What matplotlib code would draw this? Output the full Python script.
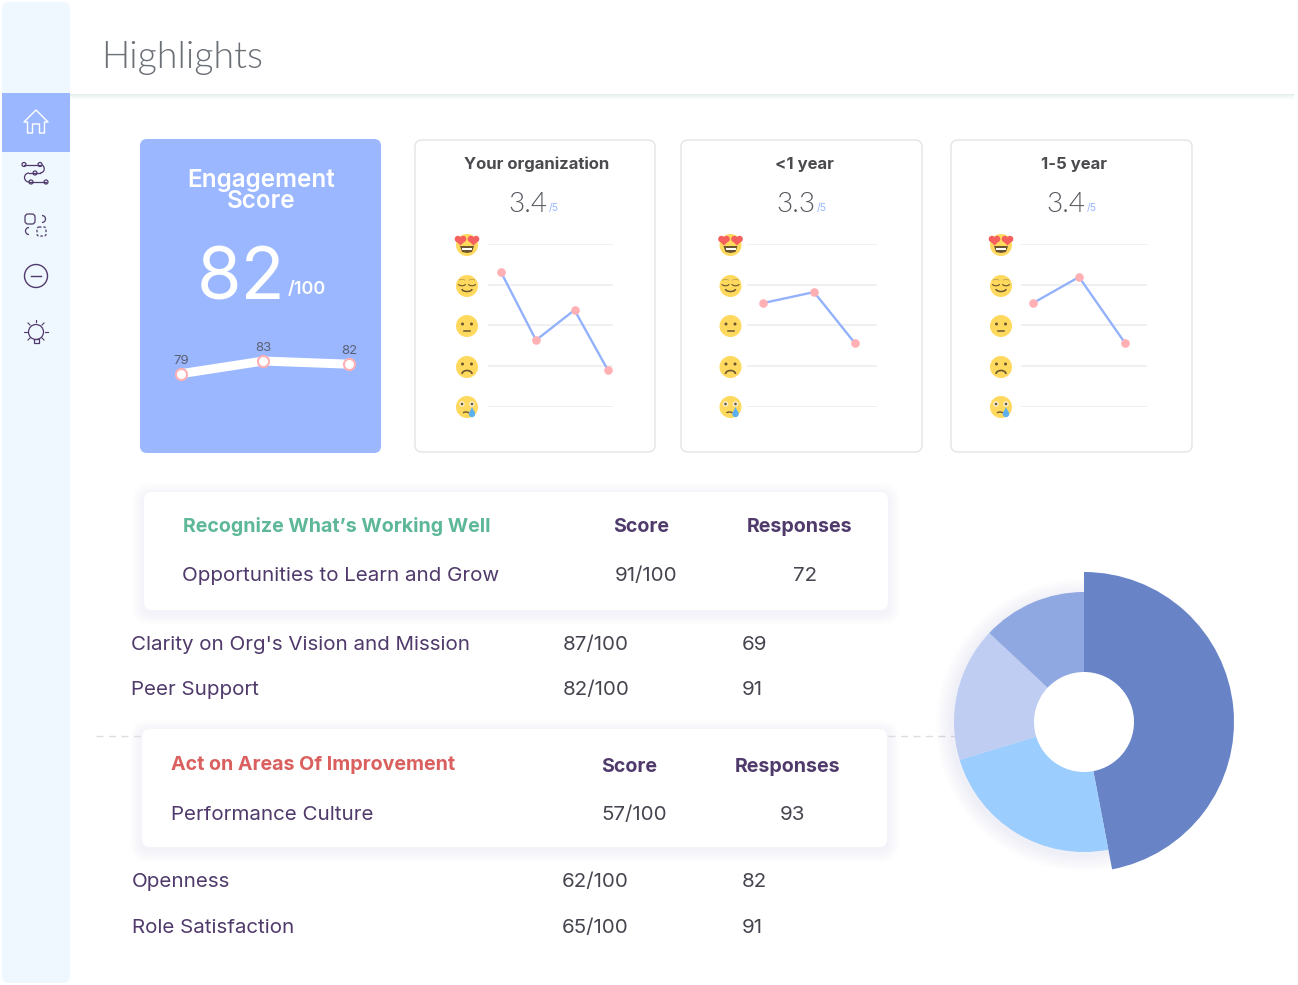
import matplotlib
matplotlib.use("Agg")
import matplotlib.pyplot as plt
from matplotlib.patches import Circle, FancyBboxPatch, Rectangle, Polygon, Arc

W, H = 1298, 985

# Data
engagement_labels = ["79", "83", "82"]
engagement_pos = [0, 1, 2.04]
engagement_scores = [79, 83, 82]

org_pos = [0, 1, 2.1, 3.05]
org_values = [4.31, 2.64, 3.38, 1.91]
lt1_pos = [0, 1, 1.8]
lt1_values = [3.55, 3.82, 2.57]
y15_pos = [0, 1, 2]
y15_values = [3.55, 4.19, 2.57]

pie_values = [47, 23.3, 16.7, 13]
pie_colors = ["#6884C7", "#9CCDFF", "#BFCDF2", "#90A8E2"]

good_rows = [("Clarity on Org's Vision and Mission", "87/100", "69"),
             ("Peer Support", "82/100", "91")]
bad_rows = [("Openness", "62/100", "82"),
            ("Role Satisfaction", "65/100", "91")]

FONT = "Inter"
LIGHT = "Lato"
PURPLE = "#4F3A6B"
BLUE = "#9BB7FF"
BODY = 14.8
HEAD = 14.15
plt.rcParams["font.family"] = [FONT, "DejaVu Sans"]

fig = plt.figure(figsize=(W / 100, H / 100), dpi=100)
bg = fig.add_axes([0, 0, 1, 1])
bg.set_xlim(0, W)
bg.set_ylim(H, 0)
bg.axis("off")


def px_axes(x0, y0, x1, y1):
    """Axes placed by pixel box of the page."""
    ax = fig.add_axes([x0 / W, 1 - y1 / H, (x1 - x0) / W, (y1 - y0) / H])
    ax.patch.set_alpha(0)
    return ax


def card(x0, y0, x1, y1, fc="white", ec="none", shadow=False, r=8):
    if shadow:
        for grow in range(12, 0, -2):
            bg.add_patch(FancyBboxPatch((x0 - grow, y0 - grow + 3), x1 - x0 + 2 * grow, y1 - y0 + 2 * grow,
                                        boxstyle=f"round,pad=0,rounding_size={r + grow}",
                                        fc="#5B3F8C", ec="none", alpha=0.0075))
    bg.add_patch(FancyBboxPatch((x0, y0), x1 - x0, y1 - y0, boxstyle=f"round,pad=0,rounding_size={r}",
                                fc=fc, ec=ec, lw=1.0))


def emoji(cx, cy, kind):
    r = 11
    bg.add_patch(Circle((cx, cy), r, fc="#FFD95E", ec="none"))
    dark = "#6B5630"
    if kind == "love":
        bg.add_patch(Polygon([(cx - 7, cy + 1), (cx + 7, cy + 1), (cx + 5, cy + 7), (cx, cy + 8), (cx - 5, cy + 7)], fc=dark, ec="none"))
        bg.add_patch(Rectangle((cx - 5, cy + 2.5), 10, 2, fc="white", ec="none"))
        for s in (-1, 1):
            hx = cx + s * 6.5
            bg.add_patch(Circle((hx - 2.6, cy - 6), 3.2, fc="#F5605F", ec="none"))
            bg.add_patch(Circle((hx + 2.6, cy - 6), 3.2, fc="#F5605F", ec="none"))
            bg.add_patch(Polygon([(hx - 5.6, cy - 5), (hx + 5.6, cy - 5), (hx, cy + 0.5)], fc="#F5605F", ec="none"))
    elif kind == "calm":
        for s in (-1, 1):
            bg.add_patch(Arc((cx + s * 5, cy - 2), 7, 3.5, theta1=0, theta2=180, color=dark, lw=0.8))
            bg.add_patch(Arc((cx + s * 5, cy - 5.5), 6, 2, theta1=180, theta2=360, color="#B49A50", lw=0.5))
        bg.add_patch(Arc((cx, cy + 3), 10, 5, theta1=0, theta2=180, color=dark, lw=1.1))
    elif kind == "flat":
        for s in (-1, 1):
            bg.add_patch(Circle((cx + s * 4.5, cy - 2), 1.5, fc=dark, ec="none"))
        bg.plot([cx - 3, cx + 3], [cy + 5, cy + 5], color=dark, lw=1.1)
    elif kind == "sad":
        for s in (-1, 1):
            bg.add_patch(Circle((cx + s * 4.5, cy - 3), 1.5, fc=dark, ec="none"))
        bg.add_patch(Arc((cx, cy + 7), 10, 7, theta1=180, theta2=360, color=dark, lw=1.2))
    else:
        for s in (-1, 1):
            bg.add_patch(Circle((cx + s * 5, cy - 3), 2.7, fc="#F8F0D8", ec="none"))
            bg.add_patch(Circle((cx + s * 5, cy - 3), 1.3, fc=dark, ec="none"))
        bg.add_patch(Arc((cx - 1, cy + 7), 7, 4, theta1=200, theta2=340, color=dark, lw=1.0))
        bg.add_patch(Circle((cx + 5, cy + 7), 3.2, fc="#5CB0EE", ec="none"))
        bg.add_patch(Polygon([(cx + 2, cy + 6), (cx + 8, cy + 6), (cx + 5, cy)], fc="#5CB0EE", ec="none"))


def trend_chart(x0, step, grid_x0, grid_x1, pos, values):
    # grid spans 244..407 px for scores 5..1
    ax = px_axes(grid_x0, 244, grid_x1, 407)
    ax.set_ylim(1, 5)
    ax.set_xlim((grid_x0 - x0) / step, (grid_x1 - x0) / step)
    ax.set_yticks([1, 2, 3, 4, 5])
    ax.set_xticks([])
    ax.tick_params(left=False, labelleft=False)
    ax.grid(axis="y", color="#EEEEF0", lw=1.2)
    for side in ax.spines.values():
        side.set_visible(False)
    ax.plot(pos, values, color="#93B2FB", lw=1.7, zorder=3, clip_on=False)
    ax.plot(pos, values, ls="none", marker="o", ms=6.2, mfc="#FFB0B4", mec="none", zorder=4, clip_on=False)


# Page frame: sidebar and header
bg.add_patch(FancyBboxPatch((2, 2), 68, 981, boxstyle="round,pad=0,rounding_size=7", fc="#EFF7FF", ec="none"))
for i, alpha in enumerate([0.22, 0.16, 0.11, 0.07, 0.04, 0.02]):
    bg.add_patch(Rectangle((70, 93.5 + i), 1224, 1, fc="#7FB5A8", ec="none", alpha=alpha))
bg.add_patch(Rectangle((2, 93), 68, 59, fc=BLUE, ec="none"))
bg.text(101, 58, "Highlights", fontsize=27, color="#6B6F76", va="center", ha="left", weight=300, family=LIGHT)

# Sidebar icons
bg.add_patch(Polygon([(24, 122), (36, 110), (48, 122), (44.5, 122), (44.5, 133), (39.5, 133), (39.5, 124),
                      (32.5, 124), (32.5, 133), (27.5, 133), (27.5, 122)], fc="none", ec="white", lw=1, joinstyle="round"))
bg.plot([24, 40], [164.5, 164.5], color=PURPLE, lw=0.9)
bg.plot([29, 40], [173, 173], color=PURPLE, lw=0.9)
bg.plot([29, 46], [182, 182], color=PURPLE, lw=0.9)
bg.add_patch(Arc((40, 168.75), 8.5, 8.5, theta1=270, theta2=90, color=PURPLE, lw=0.9))
bg.add_patch(Arc((29, 177.5), 9, 9, theta1=90, theta2=270, color=PURPLE, lw=0.9))
for cx, cy in [(24, 164.5), (40, 164.5), (35, 173), (31, 182), (46, 182)]:
    bg.add_patch(Circle((cx, cy), 2, fc="#EFF7FF", ec=PURPLE, lw=0.9))
bg.add_patch(FancyBboxPatch((25, 214), 10, 10, boxstyle="round,pad=0,rounding_size=3", fc="none", ec=PURPLE, lw=0.9))
bg.add_patch(FancyBboxPatch((37, 227), 9, 9, boxstyle="round,pad=0,rounding_size=2", fc="none", ec=PURPLE, lw=0.9, ls=(0, (2, 1.5))))
bg.add_patch(Arc((42, 219), 7, 7, theta1=270, theta2=90, color=PURPLE, lw=0.9))
bg.add_patch(Arc((29, 231), 7, 7, theta1=90, theta2=270, color=PURPLE, lw=0.9))
bg.add_patch(Circle((36, 276), 11.5, fc="none", ec=PURPLE, lw=1))
bg.plot([31, 41], [276, 276], color=PURPLE, lw=1)
bg.add_patch(Circle((36, 332), 7.5, fc="none", ec=PURPLE, lw=0.9))
bg.add_patch(Rectangle((33.5, 339), 5, 4, fc="none", ec=PURPLE, lw=0.9))
for x0, y0, x1, y1 in [(24, 332, 27, 332), (45, 332, 48, 332), (28, 323, 30, 325), (44, 323, 42, 325),
                       (36, 320, 36, 322), (28, 340, 30, 338), (44, 340, 42, 338)]:
    bg.plot([x0, x1], [y0, y1], color=PURPLE, lw=0.8)

# Engagement card
card(140, 139, 381, 453, fc=BLUE, r=7)
bg.text(261, 180, "Engagement", fontsize=17.5, color="white", ha="center", va="center", weight=600)
bg.text(261, 202, "Score", fontsize=17.5, color="white", ha="center", va="center", weight=600)
bg.text(241, 281, "82", fontsize=52, color="white", ha="center", va="center", weight=400)
bg.text(288, 289, "/100", fontsize=13, color="white", ha="left", va="center", weight=600)

eng = px_axes(181, 340, 349, 400)
eng.axis("off")
eng.set_xlim(0, 2.04)
eng.set_ylim(79 - (400 - 373.7) / 3.17, 79 + (373.7 - 340) / 3.17)
eng.plot(engagement_pos, engagement_scores, color="white", lw=6.5, solid_capstyle="round", clip_on=False)
eng.plot(engagement_pos, engagement_scores, ls="none", marker="o", ms=8, mfc="white", mec="#FFB0B4", mew=1.5, clip_on=False)
for p, s, lab in zip(engagement_pos, engagement_scores, engagement_labels):
    eng.annotate(lab, (p, s), xytext=(0, 7), textcoords="offset points", ha="center", fontsize=9.5, color="#5C6073")

# Trend cards
cards = [(415, 655, "Your organization", 537, "3.4", 528),
         (681, 922, "<1 year", 804, "3.3", 796),
         (951, 1192, "1-5 year", 1074, "3.4", 1066)]
for x0, x1, title, tx, score, sx in cards:
    card(x0, 140, x1, 452, ec="#E4E4E8", r=7)
    bg.text(tx, 164.5, title, fontsize=12, color="#4A4A4F", ha="center", va="center", weight=700)
    bg.text(sx, 205, score, fontsize=20, color="#55585E", ha="center", va="center", weight=300, family=LIGHT)
    bg.text(sx + 21, 208, "/5", fontsize=7.5, color=BLUE, ha="left", va="center")

trend_chart(501, 35, 488, 613, org_pos, org_values)
trend_chart(763, 51, 747, 877, lt1_pos, lt1_values)
trend_chart(1033, 46, 1021, 1147, y15_pos, y15_values)

for cx in (467, 730.5, 1001):
    for cy, kind in zip((245, 286, 326, 367, 407), ("love", "calm", "flat", "sad", "cry")):
        emoji(cx, cy, kind)

# Dashed divider behind the lower card
bg.plot([96, 142], [736, 736], color="#DDDDE0", lw=1, ls=(0, (5, 4)))
bg.plot([888, 955], [736, 736], color="#DDDDE0", lw=1, ls=(0, (5, 4)))

# Table cards
card(144, 492, 888, 610, shadow=True)
bg.text(183, 527, "Recognize What\u2019s Working Well", fontsize=HEAD, color="#5DB898", va="center", weight=700)
bg.text(613, 527, "Score", fontsize=HEAD, color=PURPLE, va="center", weight=700)
bg.text(747, 527, "Responses", fontsize=HEAD, color=PURPLE, va="center", weight=700)
bg.text(182, 576, "Opportunities to Learn and Grow", fontsize=BODY, color=PURPLE, va="center")
bg.text(615, 576, "91/100", fontsize=BODY, color="#45454F", va="center")
bg.text(793, 576, "72", fontsize=BODY, color="#45454F", va="center")

card(142, 729, 887, 847, shadow=True)
bg.text(171, 765, "Act on Areas Of Improvement", fontsize=HEAD, color="#D9605F", va="center", weight=700)
bg.text(601, 767, "Score", fontsize=HEAD, color=PURPLE, va="center", weight=700)
bg.text(735, 767, "Responses", fontsize=HEAD, color=PURPLE, va="center", weight=700)
bg.text(171, 815, "Performance Culture", fontsize=BODY, color=PURPLE, va="center")
bg.text(601, 815, "57/100", fontsize=BODY, color="#45454F", va="center")
bg.text(780, 815, "93", fontsize=BODY, color="#45454F", va="center")

for (name, score, resp), y in zip(good_rows, (645, 690)):
    bg.text(131, y, name, fontsize=BODY, color=PURPLE, va="center")
    bg.text(563, y, score, fontsize=BODY, color="#45454F", va="center")
    bg.text(742, y, resp, fontsize=BODY, color="#45454F", va="center")
for (name, score, resp), y in zip(bad_rows, (882, 928)):
    bg.text(132, y, name, fontsize=BODY, color=PURPLE, va="center")
    bg.text(562, y, score, fontsize=BODY, color="#45454F", va="center")
    bg.text(742, y, resp, fontsize=BODY, color="#45454F", va="center")

# Donut: first slice sticks out past the others
pie_ax = px_axes(934, 572, 1234, 872)
pie_ax.set_xlim(-150, 150)
pie_ax.set_ylim(-150, 150)
for grow in range(16, 0, -2):
    pie_ax.add_patch(Circle((-2, -3), 130 + grow, fc="#5B3F8C", ec="none", alpha=0.0075, zorder=0.4))
pie_ax.add_patch(Circle((0, 0), 50.5, fc="white", ec="none", zorder=0.5))
wedges, _ = pie_ax.pie(pie_values, colors=pie_colors, startangle=90, counterclock=False, radius=130,
                       wedgeprops=dict(width=80), frame=False)
wedges[0].set_radius(150)
wedges[0].set_width(100)
pie_ax.set_xlim(-150, 150)
pie_ax.set_ylim(-150, 150)
pie_ax.set_aspect("equal")

fig.savefig("out.png", dpi=100, facecolor="white")
